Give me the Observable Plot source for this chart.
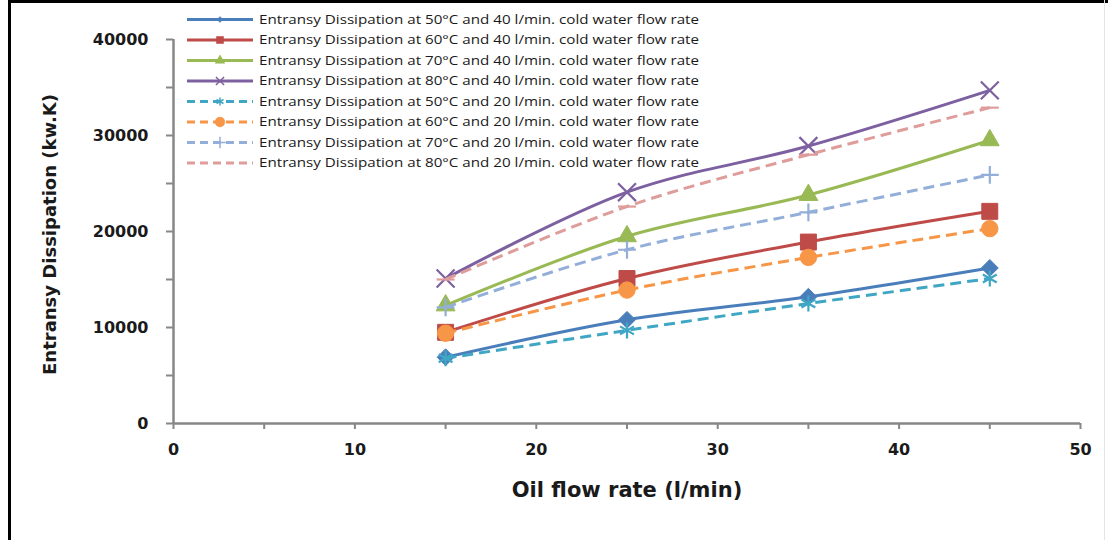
<!DOCTYPE html>
<html>
<head>
<meta charset="utf-8">
<script src="https://cdn.jsdelivr.net/npm/d3@7"></script>
<script src="https://cdn.jsdelivr.net/npm/@observablehq/plot@0.6"></script>
<style>
  body { margin: 0; background: #fff; }
  #wrap { position: relative; width: 1108px; height: 540px; overflow: hidden; background: #fff; }
  #wrap > svg.plot { position: absolute; left: 0; top: 0; }
  #legend { position: absolute; left: 0; top: 0; pointer-events: none; }
  .bt { position: absolute; left: 8px; top: 0; width: 1100px; height: 3px; background: #000; }
  .bl { position: absolute; left: 8px; top: 0; width: 3px; height: 540px; background: #000; }
  .br { position: absolute; left: 1104px; top: 0; width: 1px; height: 540px; background: #e4e4e4; }
</style>
</head>
<body>
<div id="wrap">
  <div class="bt"></div><div class="bl"></div><div class="br"></div>
</div>
<script>
// ---- data ----
const oilFlow = [15, 25, 35, 45];
const seriesNames = [
  "Entransy Dissipation at 50°C and 40 l/min. cold water flow rate",
  "Entransy Dissipation at 60°C and 40 l/min. cold water flow rate",
  "Entransy Dissipation at 70°C and 40 l/min. cold water flow rate",
  "Entransy Dissipation at 80°C and 40 l/min. cold water flow rate",
  "Entransy Dissipation at 50°C and 20 l/min. cold water flow rate",
  "Entransy Dissipation at 60°C and 20 l/min. cold water flow rate",
  "Entransy Dissipation at 70°C and 20 l/min. cold water flow rate",
  "Entransy Dissipation at 80°C and 20 l/min. cold water flow rate"
];
const t50_cw40 = [6900, 10800, 13200, 16200];
const t60_cw40 = [9500, 15100, 18900, 22100];
const t70_cw40 = [12300, 19500, 23800, 29500];
const t80_cw40 = [15100, 24100, 28900, 34700];
const t50_cw20 = [6800, 9700, 12500, 15100];
const t60_cw20 = [9400, 13900, 17300, 20300];
const t70_cw20 = [12100, 18100, 22000, 25900];
const t80_cw20 = [15000, 22600, 28000, 32900];
const seriesValues = [t50_cw40, t60_cw40, t70_cw40, t80_cw40, t50_cw20, t60_cw20, t70_cw20, t80_cw20];
const xTicks = [0, 5, 10, 15, 20, 25, 30, 35, 40, 45, 50];
const yTicks = [0, 5000, 10000, 15000, 20000, 25000, 30000, 35000, 40000];
const xTitle = "Oil flow rate (l/min)";
const yTitle = "Entransy Dissipation (kw.K)";

// ---- styles ----
const colors = ["#4A7EBB", "#BE4B48", "#98B954", "#7D60A0", "#3FA6C4", "#F79646", "#93AFD9", "#DE9C9A"];
const dashed = [false, false, false, false, true, true, true, true];
const dashSym = { draw(ctx, size) { ctx.moveTo(-9, 0); ctx.lineTo(9, 0); } };
const symbols = ["diamond2", "square", "triangle", "times", "asterisk", "circle", "plus", dashSym];
const filled = [true, true, true, false, false, true, false, false];
const radii = [7.6, 9, 7, 8.2, 7.6, 8.2, 5.8, 8];

const rows = seriesValues.flatMap((vals, i) => vals.map((v, j) => ({ s: i, x: oilFlow[j], y: v })));

const marks = [
  Plot.ruleY([0], { stroke: "#878787", strokeWidth: 2.5 }),
  Plot.ruleX([0], { stroke: "#878787", strokeWidth: 2.5 }),
  Plot.axisX({ ticks: xTicks, tickFormat: d => d % 10 === 0 ? String(d) : "", tickSize: 6, tickPadding: 14,
    stroke: "#878787", strokeWidth: 2, label: null, fontSize: 16, fontWeight: "bold", fill: "#1a1a1a" }),
  Plot.axisY({ ticks: yTicks, tickFormat: d => d % 10000 === 0 ? String(d) : "", tickSize: 7, tickPadding: 18,
    stroke: "#878787", strokeWidth: 2, label: null, fontSize: 16, fontWeight: "bold", fill: "#1a1a1a" }),
  Plot.text([xTitle], { frameAnchor: "bottom", dy: 67, fontSize: 21, fontWeight: "bold", fill: "#1a1a1a",
    lineAnchor: "middle", textAnchor: "middle" }),
  Plot.text([yTitle], { frameAnchor: "left", dx: -123, dy: 3, rotate: -90, fontSize: 18, fontWeight: "bold", fill: "#1a1a1a",
    lineAnchor: "middle", textAnchor: "middle" })
];
seriesValues.forEach((_, i) => {
  const d = rows.filter(r => r.s === i);
  marks.push(Plot.line(d, { x: "x", y: "y", stroke: colors[i], strokeWidth: 3, curve: "catmull-rom",
    strokeDasharray: dashed[i] ? "11,6" : null, strokeLinecap: "butt" }));
  marks.push(Plot.dot(d, { x: "x", y: "y", symbol: symbols[i], r: radii[i],
    fill: filled[i] ? colors[i] : "none", stroke: colors[i], strokeWidth: filled[i] ? 1 : 2.2 }));
});

const chart = Plot.plot({
  width: 1108, height: 540,
  marginLeft: 173, marginRight: 28, marginTop: 39, marginBottom: 117,
  x: { domain: [0, 50] },
  y: { domain: [0, 40000] },
  style: { fontFamily: "'DejaVu Sans', sans-serif", background: "transparent", overflow: "visible" },
  marks
});
chart.classList.add("plot");
document.getElementById("wrap").appendChild(chart);

// ---- legend ----
const lg = d3.select("#wrap").append("svg").attr("id", "legend").attr("width", 1108).attr("height", 200);
const symMap = { diamond2: d3.symbolDiamond2, square: d3.symbolSquare, triangle: d3.symbolTriangle,
  times: d3.symbolTimes, asterisk: d3.symbolAsterisk, circle: d3.symbolCircle, plus: d3.symbolPlus };
const lsizes = [22, 50, 40, 45, 45, 75, 45, 0];
seriesNames.forEach((name, i) => {
  const y = 19.5 + i * 20.5;
  const g = lg.append("g");
  g.append("line").attr("x1", 187).attr("x2", 253).attr("y1", y).attr("y2", y)
    .attr("stroke", colors[i]).attr("stroke-width", 3)
    .attr("stroke-dasharray", dashed[i] ? "8,5" : null);
  const s = symbols[i];
  if (typeof s === "string") {
    g.append("path").attr("d", d3.symbol(symMap[s], lsizes[i])())
      .attr("transform", `translate(220,${y})`)
      .attr("fill", filled[i] ? colors[i] : "none").attr("stroke", colors[i]).attr("stroke-width", filled[i] ? 0.5 : 1.5);
  }
  g.append("text").attr("x", 259).attr("y", y).attr("dy", "0.35em")
    .attr("font-family", "'Open Sans', sans-serif").attr("font-size", 12.5).attr("fill", "#1a1a1a")
    .attr("textLength", 440).attr("lengthAdjust", "spacingAndGlyphs").text(name);
});
</script>
</body>
</html>
